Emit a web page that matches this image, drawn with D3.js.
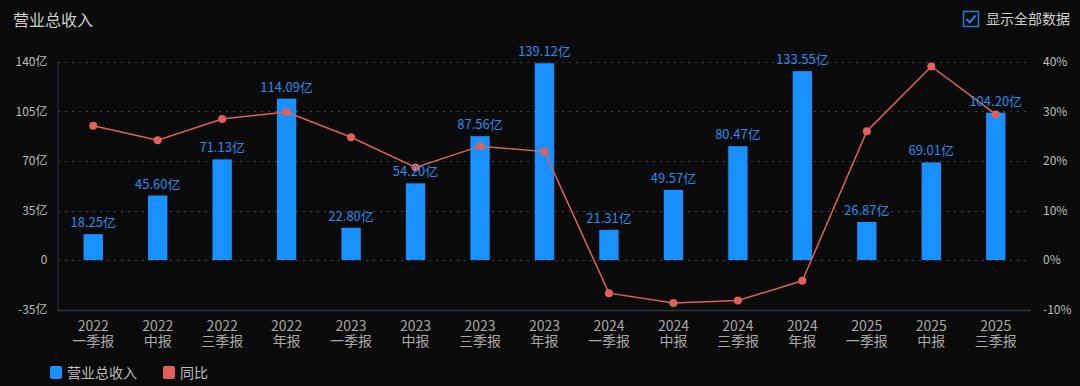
<!DOCTYPE html>
<html>
<head>
<meta charset="utf-8">
<script src="https://cdn.jsdelivr.net/npm/d3@7"></script>
<style>
  html, body { margin: 0; padding: 0; background: #0a0a0a; }
  #chart { width: 1080px; height: 386px; }
  text { font-family: "Noto Sans CJK SC", "Noto Sans", sans-serif; }
</style>
</head>
<body>
<div id="chart"></div>
<script>
// Report periods
const years = ["2022", "2022", "2022", "2022", "2023", "2023", "2023", "2023",
               "2024", "2024", "2024", "2024", "2025", "2025", "2025"];
const periods = ["一季报", "中报", "三季报", "年报", "一季报", "中报", "三季报", "年报",
                 "一季报", "中报", "三季报", "年报", "一季报", "中报", "三季报"];

// Revenue (亿) and YoY (%)
const revenue = [18.25, 45.60, 71.13, 114.09, 22.80, 54.20, 87.56, 139.12,
                 21.31, 49.57, 80.47, 133.55, 26.87, 69.01, 104.20];
const yoy = [27.1, 24.2, 28.5, 29.9, 24.8, 18.7, 23.0, 21.9,
             -6.7, -8.7, -8.2, -4.2, 26.0, 39.1, 29.4];

const leftTicks = [-35, 0, 35, 70, 105, 140];
const rightTicks = [-10, 0, 10, 20, 30, 40];

const W = 1080, H = 386;
const barColor = "#1890ff";
const lineColor = "#e0605a";
const textColor = "#bdbdbd";

const svg = d3.select("#chart").append("svg")
    .attr("width", W)
    .attr("height", H);

const idx = d3.range(revenue.length);

const x = d3.scaleBand()
    .domain(idx)
    .range([61, 1028])
    .paddingInner(0.7)
    .paddingOuter(0.35);

const cx = i => x(i) + x.bandwidth() / 2;

const yL = d3.scaleLinear().domain([-35, 140]).range([309.5, 62]);
const yR = d3.scaleLinear().domain([-10, 40]).range([309.5, 62]);

// Title
svg.append("text")
    .attr("x", 13).attr("y", 26)
    .attr("fill", "#cfcfcf")
    .attr("font-size", 16)
    .text("营业总收入");

// Checkbox
const cb = svg.append("g").attr("transform", "translate(963,11)");
cb.append("rect")
    .attr("x", 0.5).attr("y", 0.5)
    .attr("width", 15).attr("height", 15)
    .attr("fill", "none")
    .attr("stroke", "#1a7fd4")
    .attr("stroke-width", 1.5);
cb.append("path")
    .attr("d", "M3.5,8 L6.8,11.3 L12.5,4.5")
    .attr("fill", "none")
    .attr("stroke", "#1a8fff")
    .attr("stroke-width", 1.8);
svg.append("text")
    .attr("x", 986).attr("y", 24)
    .attr("fill", "#cfcfcf")
    .attr("font-size", 14)
    .text("显示全部数据");

// Grid lines
svg.append("g")
    .selectAll("line")
    .data(leftTicks.filter(d => d !== -35))
    .join("line")
    .attr("x1", 58).attr("x2", 1030)
    .attr("y1", d => Math.round(yL(d)) + 0.5)
    .attr("y2", d => Math.round(yL(d)) + 0.5)
    .attr("stroke", "#3a3f46")
    .attr("stroke-dasharray", "2,5");

// Left axis
const leftAxis = svg.append("g")
    .attr("transform", "translate(57.5,0)")
    .call(d3.axisLeft(yL).tickValues(leftTicks).tickSize(0).tickPadding(10)
        .tickFormat(d => d === 0 ? "0" : d + "亿"));
leftAxis.select(".domain").attr("stroke", "#2c3440");
leftAxis.selectAll("text")
    .attr("fill", textColor)
    .attr("font-size", 12)
    .attr("font-family", "'Noto Sans CJK SC', sans-serif");

// Right axis
const rightAxis = svg.append("g")
    .attr("transform", "translate(1030,0)")
    .call(d3.axisRight(yR).tickValues(rightTicks).tickSize(0).tickPadding(13)
        .tickFormat(d => d + "%"));
rightAxis.select(".domain").remove();
rightAxis.selectAll("text")
    .attr("fill", textColor)
    .attr("font-size", 12)
    .attr("font-family", "'Noto Sans CJK SC', sans-serif");

// Bottom axis line
svg.append("line")
    .attr("x1", 57).attr("x2", 1031)
    .attr("y1", 310.5).attr("y2", 310.5)
    .attr("stroke", "#2c3440")
    .attr("stroke-width", 1.5);

// X labels (two lines: year, period)
const xl = svg.append("g")
    .selectAll("text")
    .data(idx)
    .join("text")
    .attr("text-anchor", "middle")
    .attr("fill", "#a8a8a8")
    .attr("font-size", 14);
xl.append("tspan")
    .attr("x", cx)
    .attr("y", 331)
    .text(i => years[i]);
xl.append("tspan")
    .attr("x", cx)
    .attr("y", 346)
    .text(i => periods[i]);

// Bars
svg.append("g")
    .selectAll("rect")
    .data(idx)
    .join("rect")
    .attr("x", i => x(i))
    .attr("width", x.bandwidth())
    .attr("y", i => yL(revenue[i]))
    .attr("height", i => yL(0) - yL(revenue[i]))
    .attr("fill", barColor);

// YoY line
svg.append("path")
    .datum(idx)
    .attr("fill", "none")
    .attr("stroke", lineColor)
    .attr("stroke-width", 1.5)
    .attr("d", d3.line().x(cx).y(i => yR(yoy[i])));

svg.append("g")
    .selectAll("circle")
    .data(idx)
    .join("circle")
    .attr("cx", cx)
    .attr("cy", i => yR(yoy[i]))
    .attr("r", 4)
    .attr("fill", lineColor);

// Value labels
svg.append("g")
    .selectAll("text")
    .data(idx)
    .join("text")
    .attr("x", cx)
    .attr("y", i => yL(revenue[i]) - 7)
    .attr("text-anchor", "middle")
    .attr("fill", "#1d8ff0")
    .attr("font-size", 13)
    .text(i => revenue[i].toFixed(2) + "亿");

// Legend
const legend = [
    { label: "营业总收入", color: barColor, x: 50 },
    { label: "同比", color: lineColor, x: 163 }
];
const lg = svg.append("g")
    .selectAll("g")
    .data(legend)
    .join("g")
    .attr("transform", d => `translate(${d.x},366)`);
lg.append("rect")
    .attr("width", 12).attr("height", 13)
    .attr("rx", 2)
    .attr("fill", d => d.color);
lg.append("text")
    .attr("x", 17).attr("y", 12)
    .attr("fill", textColor)
    .attr("font-size", 14)
    .text(d => d.label);
</script>
</body>
</html>
